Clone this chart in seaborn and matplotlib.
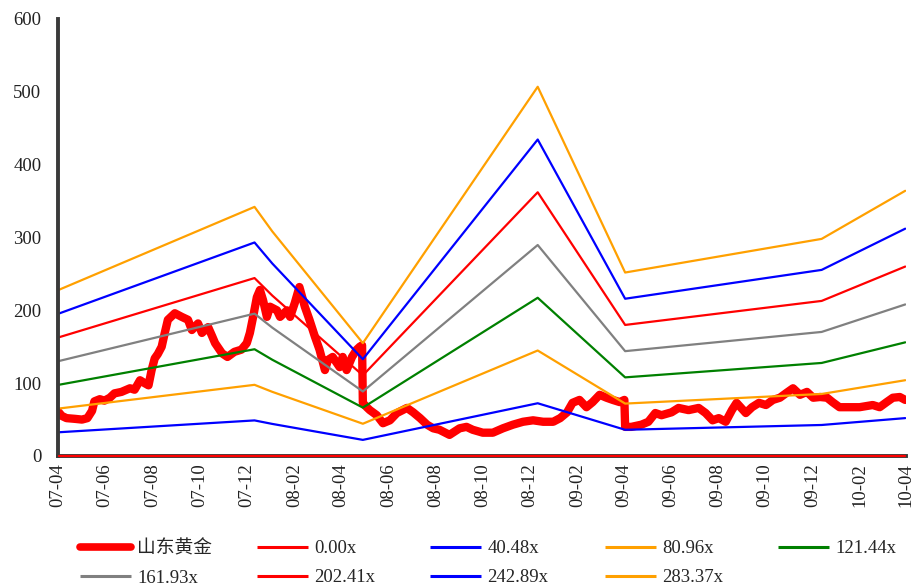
import pandas as pd
import numpy as np
import matplotlib.pyplot as plt
import matplotlib.dates as mdates
import seaborn as sns

sns.set_style('white')
plt.rcParams['font.family'] = ['Liberation Serif', 'Noto Sans CJK SC']

# stock price
price_dates = ['2007-04-02', '2007-04-06', '2007-04-12', '2007-04-23', '2007-05-02', '2007-05-09',
               '2007-05-15', '2007-05-18', '2007-05-25', '2007-05-31', '2007-06-07', '2007-06-13',
               '2007-06-22', '2007-07-03', '2007-07-09', '2007-07-16', '2007-07-22', '2007-07-27',
               '2007-07-31', '2007-08-04', '2007-08-08', '2007-08-13', '2007-08-17', '2007-08-21',
               '2007-08-26', '2007-08-30', '2007-09-08', '2007-09-16', '2007-09-21', '2007-09-29',
               '2007-10-04', '2007-10-12', '2007-10-17', '2007-10-21', '2007-10-30', '2007-11-06',
               '2007-11-15', '2007-11-24', '2007-12-01', '2007-12-05', '2007-12-09', '2007-12-14',
               '2007-12-18', '2007-12-22', '2007-12-27', '2007-12-31', '2008-01-09', '2008-01-13',
               '2008-01-22', '2008-01-26', '2008-02-01', '2008-02-07', '2008-02-14', '2008-02-20',
               '2008-02-27', '2008-03-04', '2008-03-11', '2008-03-15', '2008-03-21', '2008-03-30',
               '2008-04-03', '2008-04-08', '2008-04-15', '2008-04-21', '2008-04-25', '2008-04-28',
               '2008-04-29', '2008-05-04', '2008-05-08', '2008-05-17', '2008-05-25', '2008-06-03',
               '2008-06-12', '2008-06-25', '2008-07-03', '2008-07-12', '2008-07-21', '2008-07-29',
               '2008-08-06', '2008-08-19', '2008-09-01', '2008-09-10', '2008-09-18', '2008-10-01',
               '2008-10-14', '2008-10-27', '2008-11-09', '2008-11-22', '2008-12-05', '2008-12-18',
               '2008-12-31', '2009-01-09', '2009-01-18', '2009-01-25', '2009-02-03', '2009-02-12',
               '2009-02-20', '2009-03-01', '2009-03-10', '2009-03-18', '2009-03-27', '2009-04-02',
               '2009-04-03', '2009-04-11', '2009-04-24', '2009-05-03', '2009-05-12', '2009-05-20',
               '2009-06-02', '2009-06-11', '2009-06-24', '2009-07-07', '2009-07-16', '2009-07-25',
               '2009-08-02', '2009-08-11', '2009-08-19', '2009-08-25', '2009-09-06', '2009-09-14',
               '2009-09-23', '2009-10-02', '2009-10-11', '2009-10-20', '2009-10-29', '2009-11-06',
               '2009-11-15', '2009-11-24', '2009-12-02', '2009-12-11', '2009-12-20', '2009-12-27',
               '2010-01-05', '2010-01-14', '2010-01-31', '2010-02-17', '2010-02-26', '2010-03-07',
               '2010-03-15', '2010-03-24', '2010-03-31']
price_values = [60, 55, 52, 51, 50, 52,
                62, 75, 78, 76, 80, 86,
                88, 93, 91, 104, 100, 97,
                118, 134, 140, 150, 169, 187,
                192, 196, 191, 187, 173, 182,
                169, 177, 165, 155, 141, 136,
                143, 146, 155, 169, 190, 218,
                228, 214, 191, 205, 200, 191,
                200, 191, 210, 232, 205, 187,
                164, 146, 118, 132, 136, 122,
                136, 118, 136, 146, 150, 152,
                73, 67, 63, 56, 45, 49,
                59, 66, 60, 52, 43, 38,
                36, 29, 38, 40, 36, 32,
                32, 38, 43, 47, 49, 47,
                47, 52, 60, 73, 77, 67,
                74, 84, 80, 77, 74, 77,
                40, 40, 43, 47, 59, 56,
                60, 66, 63, 66, 59, 49,
                52, 47, 63, 73, 59, 67,
                73, 70, 77, 80, 87, 93,
                84, 88, 80, 81, 80, 74,
                67, 67, 67, 70, 67, 74,
                80, 81, 77]

# EPS used for the PE bands
eps_dates = ['2007-04-02', '2007-12-11', '2008-01-03', '2008-04-29',
             '2008-12-11', '2009-04-03', '2009-12-13', '2010-03-31']
eps_values = [0.805, 1.207, 1.088, 0.547, 1.789, 0.889, 1.052, 1.285]

pe_multiples = [0.00, 40.48, 80.96, 121.44, 161.93, 202.41, 242.89, 283.37]
band_labels = ['0.00x', '40.48x', '80.96x', '121.44x', '161.93x', '202.41x', '242.89x', '283.37x']
band_colors = ['#FF0000', '#0000FF', '#FFA000', '#008000', '#808080', '#FF0000', '#0000FF', '#FFA000']

fig = plt.figure(figsize=(9.22, 5.88), dpi=100)
ax = fig.add_axes([58 / 922, 1 - 456 / 588, 848 / 922, 437 / 588])

sns.lineplot(x=pd.to_datetime(price_dates), y=price_values, color='#FF0000', lw=6, ax=ax)
handles = [ax.lines[-1]]

eps_dt = pd.to_datetime(eps_dates)
for m, c in zip(pe_multiples, band_colors):
    sns.lineplot(x=eps_dt, y=np.array(eps_values) * m, color=c, lw=1.6, ax=ax)
    ln = ax.lines[-1]
    if m == 0:
        ln.set_clip_on(False)
        ln.set_zorder(5)
    handles.append(ln)
labels = ['山东黄金'] + band_labels

ax.set_xlim(pd.Timestamp('2007-04-01'), pd.Timestamp('2010-04-01'))
ax.set_ylim(0, 600)
ax.set_yticks(range(0, 700, 100))
ax.xaxis.set_major_locator(mdates.MonthLocator(bymonth=range(2, 13, 2)))
ax.xaxis.set_major_formatter(mdates.DateFormatter('%y-%m'))
ax.set_xlabel('')
ax.set_ylabel('')

for s in ['top', 'right']:
    ax.spines[s].set_visible(False)
for s in ['left', 'bottom']:
    ax.spines[s].set_color('#3a3a3a')
    ax.spines[s].set_linewidth(2.8)

ax.tick_params(axis='both', direction='in', length=6, width=2.5, color='#3a3a3a',
               labelsize=13.5, labelcolor='#222222')
ax.tick_params(axis='y', pad=12)
ax.tick_params(axis='x', pad=5, labelrotation=90)

# legend: five columns laid out like the original
columns = [[0, 5], [1, 6], [2, 7], [3, 8], [4]]
col_x = [80, 257, 430, 605, 778]
for idx, x0 in zip(columns, col_x):
    hs = []
    for i in idx:
        h = plt.Line2D([], [], color=handles[i].get_color(),
                       lw=5.5 if i == 0 else 2.2, solid_capstyle='round' if i == 0 else 'butt')
        hs.append(h)
    fig.legend(hs, [labels[i] for i in idx], loc='upper left',
               bbox_to_anchor=(x0 / 922, 1 - 540 / 588), frameon=False,
               borderpad=0, borderaxespad=0, handlelength=2.7, handletextpad=0.35,
               labelspacing=0.65, fontsize=13.5)

fig.savefig('out.png', dpi=100)
